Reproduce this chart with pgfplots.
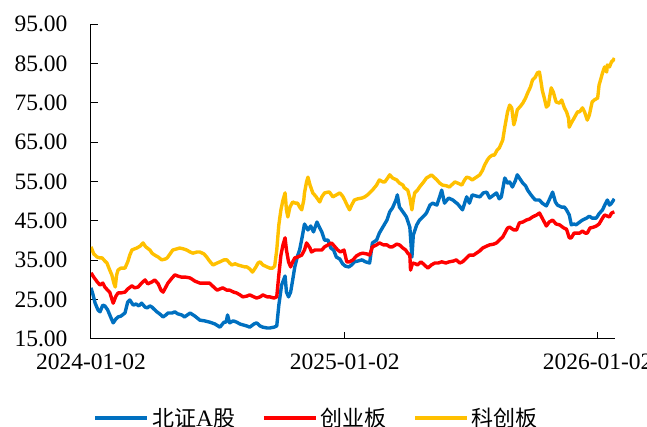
\documentclass[border=0pt]{standalone}
\usepackage{pgfplots}
\pgfplotsset{compat=1.18}
\usepackage{fontspec}
\setmainfont{Liberation Serif}
\newfontfamily\cjk{Noto Sans CJK SC}
\definecolor{cblue}{HTML}{0070C0}
\definecolor{cred}{HTML}{FF0000}
\definecolor{cyel}{HTML}{FFC000}
\begin{document}
\begin{tikzpicture}
\begin{axis}[
  at={(0pt,0pt)}, anchor=south west,
  scale only axis, width=524pt, height=315pt,
  xmin=0, xmax=756, ymin=15, ymax=95,
  axis x line*=bottom, axis y line*=left,
  axis line style={black, line width=1pt},
  tick align=inside, major tick length=7pt,
  tick style={black, line width=1pt},
  xtick={0,366,731},
  xticklabels={2024-01-02,2025-01-02,2026-01-02},
  ytick={15,25,...,95},
  /pgf/number format/fixed, /pgf/number format/fixed zerofill,
  /pgf/number format/precision=2, /pgf/number format/assume math mode=true,
  yticklabel style={xshift=-20pt},
  xticklabel style={yshift=-11pt},
  tick label style={font=\fontsize{23.5}{28}\selectfont},
  legend columns=3,
  legend style={draw=none, fill=none, at={(0.432,-0.251)}, anchor=center,
    font=\fontsize{23.5}{28}\selectfont,
    /tikz/every even column/.append style={column sep=24pt},
    nodes={inner sep=3pt}},
  legend image code/.code={\draw[#1] (0pt,0pt) -- (52pt,0pt);},
  every axis plot/.append style={line width=3.4pt, line join=round},
]
\addplot[cblue] coordinates {
(0,28.0)(3,26.2)(6,24.1)(10,22.4)(13,21.9)(17,23.6)(20,23.4)(24,22.4)(29,20.3)(32,19.1)
(36,20.1)(39,20.6)(43,20.8)(49,21.6)(53,24.4)(56,24.9)(61,23.6)(65,23.9)(69,23.4)(73,24.1)
(78,23.1)(81,22.9)(85,23.4)(88,23.1)(92,22.4)(95,21.9)(99,21.4)(104,20.6)(108,21.1)(111,21.6)
(117,21.6)(121,21.9)(125,21.4)(131,21.1)(135,20.6)(143,21.6)(150,20.8)(157,19.8)(164,19.6)(171,19.3)
(179,18.8)(186,18.0)(192,19.3)(195,19.3)(197,21.1)(200,19.1)(205,19.6)(210,19.3)(215,18.8)(219,18.6)
(225,18.3)(229,18.0)(235,18.8)(239,19.1)(244,18.3)(248,18.0)(254,17.8)(258,17.8)(264,18.0)(268,18.3)
(271,23.6)(275,28.7)(280,31.0)(282,26.9)(285,25.7)(288,26.9)(291,30.0)(294,33.3)(298,36.1)(301,37.6)
(305,41.2)(308,44.2)(313,42.7)(317,43.7)(321,42.2)(326,44.7)(330,43.2)(333,42.2)(337,40.1)(342,40.1)
(346,38.1)(350,37.6)(354,35.8)(359,35.3)(363,34.1)(367,33.5)(372,33.3)(376,33.8)(380,34.6)(385,34.8)
(391,35.1)(396,34.6)(402,34.3)(406,39.4)(412,40.1)(416,41.9)(422,43.7)(427,45.2)(431,47.3)(435,48.3)
(440,50.3)(442,51.6)(445,48.5)(450,47.3)(455,46.0)(460,43.4)(463,35.8)(465,41.4)(470,44.0)(474,45.2)
(480,46.2)(484,47.0)(489,49.0)(493,49.5)(499,49.0)(503,51.1)(506,52.8)(510,49.5)(516,50.8)(522,50.3)
(529,49.3)(536,47.8)(542,51.1)(546,49.5)(550,51.6)(556,51.3)(561,51.1)(566,52.1)(571,52.3)(575,50.8)
(579,51.3)(585,52.1)(589,50.6)(592,51.1)(597,55.9)(601,54.6)(604,54.9)(608,53.6)(612,55.1)(615,56.7)
(620,55.4)(623,54.6)(627,53.9)(630,52.8)(634,51.8)(637,51.1)(641,50.3)(647,50.3)(651,49.5)(657,48.8)
(661,50.3)(666,52.3)(670,49.8)(673,49.0)(679,48.5)(683,48.5)(686,47.8)(690,46.5)(693,44.0)(697,44.2)
(700,44.0)(705,44.7)(709,45.2)(715,45.7)(719,46.2)(723,45.7)(729,45.7)(733,46.8)(738,47.8)(742,49.3)
(745,50.3)(748,49.0)(751,49.5)(755,50.6)
};
\addlegendentry{{\cjk\fontsize{22}{26}\selectfont 北证}A{\cjk\fontsize{22}{26}\selectfont 股}}
\addplot[cred] coordinates {
(0,31.8)(4,30.7)(9,29.5)(13,28.7)(17,29.2)(20,28.2)(24,27.4)(27,26.9)(32,24.1)(36,25.9)
(39,26.7)(43,26.7)(49,26.9)(53,27.7)(59,28.5)(63,28.0)(68,28.2)(73,29.2)(78,30.0)(82,29.0)
(88,29.5)(92,30.0)(97,29.0)(101,27.4)(104,26.9)(108,28.2)(111,29.2)(117,30.5)(121,31.3)(125,31.0)
(131,30.7)(137,30.7)(143,30.5)(150,29.7)(157,29.2)(164,29.2)(171,29.2)(177,28.2)(182,27.4)(186,27.7)
(190,28.0)(196,27.4)(200,27.4)(206,26.9)(210,26.7)(215,26.2)(219,25.7)(225,25.9)(229,26.2)(235,25.7)
(239,25.4)(244,25.7)(248,26.2)(254,25.7)(258,25.7)(264,25.4)(268,25.7)(271,31.3)(274,36.3)(277,38.9)
(280,40.7)(282,37.6)(285,34.6)(288,33.3)(291,34.6)(294,35.6)(298,35.8)(304,36.3)(308,37.6)(311,39.4)
(316,38.1)(318,37.1)(323,37.6)(327,37.6)(333,37.6)(337,38.4)(342,38.9)(347,39.4)(352,38.4)(356,37.6)
(360,37.1)(365,37.6)(369,34.6)(373,34.6)(378,35.1)(383,36.1)(388,36.6)(392,36.8)(398,36.6)(402,36.3)
(406,38.4)(412,38.9)(416,39.4)(422,38.9)(427,38.9)(431,38.4)(435,38.4)(441,39.1)(445,38.9)(450,38.1)
(454,37.6)(457,36.8)(460,36.3)(461,32.5)(464,34.3)(468,34.1)(471,33.8)(476,34.6)(478,34.3)(483,33.5)
(486,33.0)(491,33.8)(496,34.3)(501,34.3)(506,34.6)(512,34.3)(517,34.6)(523,34.8)(527,35.1)(532,34.3)
(536,34.6)(542,35.6)(546,36.3)(552,36.3)(556,36.8)(561,37.4)(565,38.1)(571,38.6)(575,38.9)(581,39.1)
(585,39.4)(589,40.1)(594,40.9)(598,42.2)(601,43.2)(604,43.4)(610,42.7)(614,42.7)(618,44.5)(623,44.7)
(628,45.2)(633,45.5)(637,46.0)(643,46.5)(647,47.0)(651,45.7)(657,43.7)(661,44.7)(666,45.2)(671,44.2)
(676,44.0)(682,43.2)(686,42.9)(690,40.7)(693,40.7)(697,41.9)(700,41.9)(705,41.9)(709,42.4)(713,41.9)
(716,41.9)(720,43.2)(725,43.4)(729,43.7)(733,44.2)(738,45.7)(741,46.5)(745,46.2)(748,46.0)(751,47.0)
(755,47.3)
};
\addlegendentry{\cjk\fontsize{22}{26}\selectfont 创业板}
\addplot[cyel] coordinates {
(0,38.4)(4,36.6)(9,35.8)(13,35.6)(16,35.6)(20,34.8)(23,34.3)(27,32.5)(30,31.3)(33,29.2)
(35,28.2)(37,31.3)(39,32.5)(43,33.0)(49,33.0)(53,34.6)(56,36.3)(59,37.6)(63,37.9)(66,38.1)
(71,38.6)(75,39.4)(79,38.4)(85,37.6)(88,36.8)(92,36.3)(97,35.8)(102,35.1)(107,35.3)(110,35.6)
(114,36.6)(118,37.6)(124,37.9)(128,38.1)(133,37.9)(138,37.6)(143,37.1)(147,36.8)(153,37.1)(157,37.1)
(163,36.6)(167,35.8)(171,34.8)(176,33.8)(182,34.3)(186,34.6)(192,35.1)(196,35.1)(200,34.3)(203,33.8)
(208,34.1)(212,33.8)(218,33.5)(222,33.3)(225,33.3)(229,32.8)(233,32.0)(238,33.3)(241,34.3)(244,34.6)
(248,33.8)(254,33.3)(258,33.0)(262,33.0)(265,33.5)(268,37.6)(271,44.0)(274,47.8)(277,50.3)(280,52.1)
(282,47.8)(284,46.0)(287,48.5)(291,49.8)(295,49.5)(298,49.5)(301,48.5)(304,47.8)(307,50.3)(308,52.1)
(311,54.9)(313,56.1)(316,54.1)(320,52.1)(324,51.3)(330,49.8)(333,51.1)(337,52.1)(342,52.3)(344,52.3)
(349,51.1)(354,51.6)(359,52.1)(363,51.3)(366,50.3)(370,48.8)(373,47.8)(376,49.0)(380,50.3)(385,50.6)
(391,50.8)(395,51.1)(399,51.6)(403,52.3)(406,52.8)(412,54.1)(416,55.4)(421,54.9)(424,54.9)(428,55.9)
(431,56.7)(435,55.9)(441,55.4)(445,54.6)(450,54.1)(452,53.4)(457,52.8)(460,50.8)(463,47.8)(465,50.3)
(467,52.1)(471,52.8)(474,53.6)(480,54.9)(484,55.9)(489,56.4)(491,56.7)(496,55.9)(499,55.4)(503,54.6)
(507,54.1)(513,53.9)(517,53.6)(522,54.4)(525,54.9)(529,54.6)(535,54.1)(539,55.4)(542,56.1)(546,55.9)
(550,55.4)(556,56.1)(561,56.7)(565,57.9)(568,59.2)(572,60.5)(575,61.2)(579,61.7)(582,61.7)(586,63.0)
(589,63.5)(594,65.5)(597,68.8)(601,72.7)(604,74.4)(607,73.7)(610,69.4)(612,70.6)(615,73.2)(620,74.2)
(623,74.9)(627,76.2)(630,77.5)(634,79.0)(637,80.8)(641,81.5)(644,82.6)(647,82.8)(650,79.5)(651,78.2)
(654,76.2)(657,73.9)(660,74.4)(661,75.7)(664,78.8)(667,77.7)(671,75.2)(676,74.9)(679,75.7)(683,73.7)
(686,72.7)(689,71.1)(690,68.8)(693,69.9)(697,71.1)(702,72.7)(705,72.7)(709,73.7)(712,72.7)(716,70.6)
(719,71.9)(723,75.2)(726,75.7)(731,76.2)(733,79.5)(736,81.3)(738,82.6)(741,84.1)(744,82.8)(745,84.6)
(748,84.1)(751,85.4)(754,85.9)(755,86.4)
};
\addlegendentry{\cjk\fontsize{22}{26}\selectfont 科创板}
\end{axis}
\pgfresetboundingbox
\path[use as bounding box] (-91pt,-88pt) rectangle (556pt,339pt);
\end{tikzpicture}
\end{document}
